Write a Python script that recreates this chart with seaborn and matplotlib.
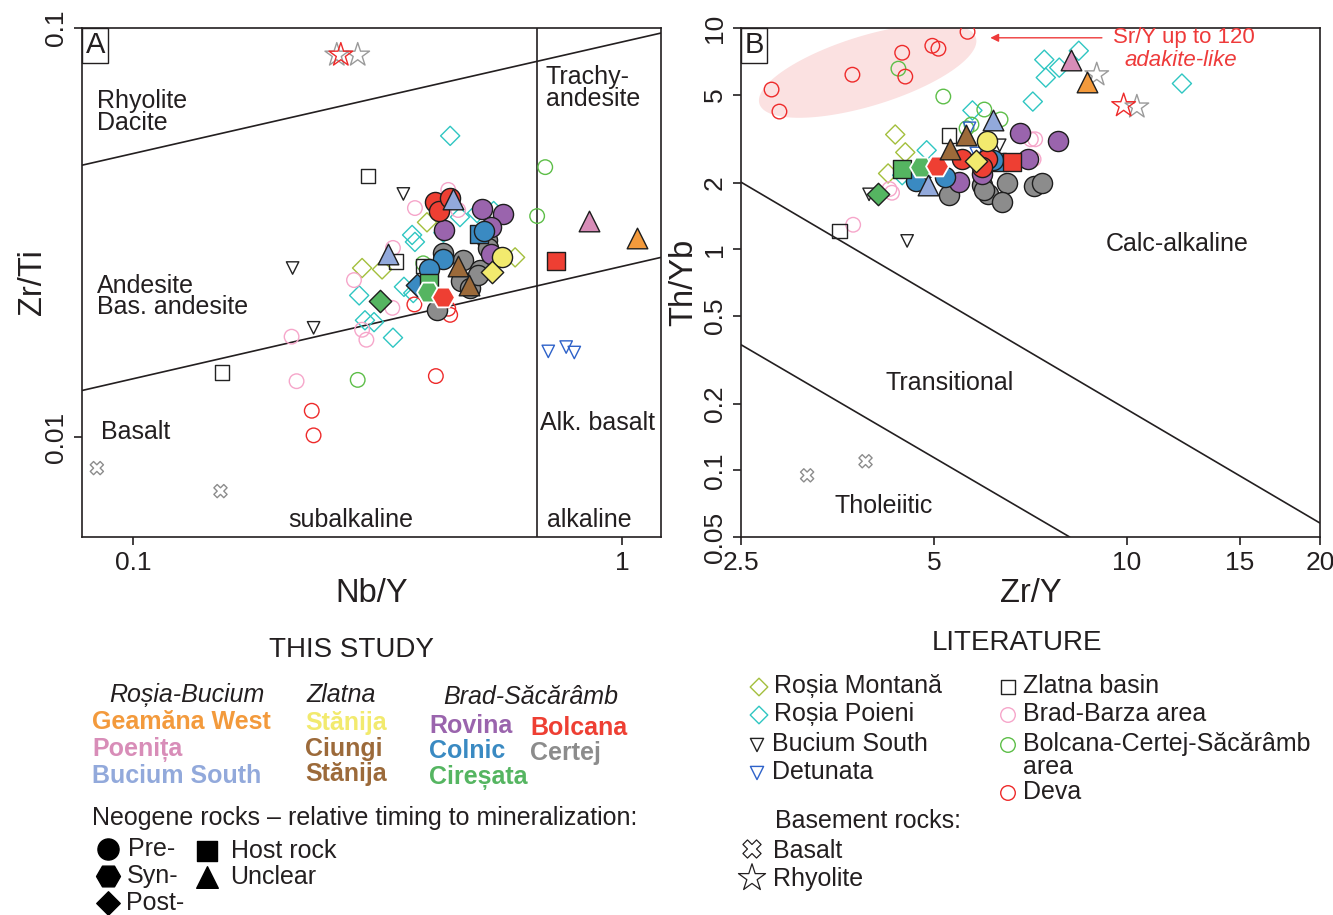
import matplotlib
matplotlib.use("Agg")
import matplotlib.pyplot as plt
import numpy as np
import pandas as pd
import seaborn as sns

# ---------------- THIS STUDY ----------------
# panel A: Nb/Y vs Zr/Ti, panel B: Zr/Y vs Th/Yb; timing = relative to mineralization
geamana_nby = [1.07]
geamana_zrti = [0.0307]
geamana_timing_a = ["unclear"]
geamana_zry = [8.65]
geamana_thyb = [5.72]
geamana_timing_b = ["unclear"]

poenita_nby = [0.856]
poenita_zrti = [0.0337]
poenita_timing_a = ["unclear"]
poenita_zry = [8.17]
poenita_thyb = [7.19]
poenita_timing_b = ["unclear"]

bucium_nby = [0.451, 0.332]
bucium_zrti = [0.0382, 0.0280]
bucium_timing_a = ["unclear", "unclear"]
bucium_zry = [6.17, 4.90]
bucium_thyb = [3.82, 1.95]
bucium_timing_b = ["unclear", "unclear"]

stanija_nby = [0.568, 0.542]
stanija_zrti = [0.0275, 0.0253]
stanija_timing_a = ["pre", "post"]
stanija_zry = [6.04, 5.82]
stanija_thyb = [3.07, 2.50]
stanija_timing_b = ["pre", "post"]

ciungi_nby = [0.462, 0.487]
ciungi_zrti = [0.0262, 0.0235]
ciungi_timing_a = ["unclear", "unclear"]
ciungi_zry = [5.60, 5.30]
ciungi_thyb = [3.27, 2.83]
ciungi_timing_b = ["unclear", "unclear"]

rovina_nby = [0.517, 0.571, 0.433, 0.540, 0.540]
rovina_zrti = [0.0361, 0.0351, 0.0321, 0.0326, 0.0280]
rovina_timing_a = ["pre"] * 5
rovina_zry = [6.82, 7.80, 7.00, 5.46, 5.95]
rovina_thyb = [3.34, 3.10, 2.57, 2.01, 2.18]
rovina_timing_b = ["pre"] * 5

colnic_nby = [0.510, 0.522, 0.431, 0.403, 0.381]
colnic_zrti = [0.0314, 0.0319, 0.0272, 0.0257, 0.0235]
colnic_timing_a = ["host", "pre", "pre", "pre", "post"]
colnic_zry = [6.28, 6.17, 4.69, 5.21, 4.87]
colnic_thyb = [2.47, 2.53, 2.03, 2.13, 2.30]
colnic_timing_b = ["host", "pre", "pre", "pre", "post"]

ciresata_nby = [0.403, 0.401, 0.320]
ciresata_zrti = [0.0238, 0.0226, 0.0215]
ciresata_timing_a = ["host", "syn", "post"]
ciresata_zry = [4.45, 4.78, 4.09]
ciresata_thyb = [2.30, 2.35, 1.77]
ciresata_timing_b = ["host", "syn", "post"]

bolcana_nby = [0.415, 0.422, 0.445, 0.733, 0.431]
bolcana_zrti = [0.0375, 0.0357, 0.0384, 0.0269, 0.0220]
bolcana_timing_a = ["pre", "pre", "pre", "host", "syn"]
bolcana_zry = [5.52, 6.04, 5.95, 6.61, 5.06]
bolcana_thyb = [2.55, 2.55, 2.35, 2.47, 2.39]
bolcana_timing_b = ["pre", "pre", "pre", "host", "syn"]

certej_nby = [0.431, 0.473, 0.530, 0.532, 0.512, 0.469, 0.489, 0.418, 0.507]
certej_zrti = [0.0282, 0.0271, 0.0303, 0.0290, 0.0256, 0.0241, 0.0231, 0.0204, 0.0249]
certej_timing_a = ["pre"] * 9
certej_zry = [5.28, 5.95, 6.08, 6.49, 6.39, 7.17, 7.38, 5.99]
certej_thyb = [1.76, 1.95, 1.77, 1.99, 1.63, 1.93, 1.99, 1.85]
certej_timing_b = ["pre"] * 8

# ---------------- LITERATURE ----------------
rmontana_nby = [0.399, 0.604, 0.294, 0.323]
rmontana_zrti = [0.0335, 0.0275, 0.0259, 0.0257]
rmontana_zry = [4.35, 4.51, 4.24]
rmontana_thyb = [3.30, 2.74, 2.20]

rpoieni_nby = [0.445, 0.466, 0.505, 0.372, 0.377, 0.431, 0.290, 0.298, 0.311, 0.340, 0.358, 0.374, 0.546]
rpoieni_zrti = [0.0545, 0.0345, 0.0353, 0.0312, 0.0300, 0.0316, 0.0222, 0.0193, 0.0191, 0.0175,
                0.0233, 0.0225, 0.0357]
rpoieni_zry = [7.43, 8.41, 7.84, 7.47, 7.13, 12.18, 5.74, 4.87, 4.46]
rpoieni_thyb = [7.19, 7.89, 6.62, 5.97, 4.65, 5.61, 4.24, 2.80, 2.16]

bsouth_nby = [0.357, 0.212, 0.234]
bsouth_zrti = [0.0393, 0.0259, 0.0185]
bsouth_zry = [6.33, 3.96, 4.54, 5.28]
bsouth_thyb = [2.95, 1.77, 1.09, 1.74]

detunata_nby = [0.706, 0.768, 0.798]
detunata_zrti = [0.0162, 0.0166, 0.0161]
detunata_zry = [5.68, 5.82]
detunata_thyb = [3.52, 2.71]

zlatna_nby = [0.302, 0.152, 0.345, 0.393]
zlatna_zrti = [0.0435, 0.0144, 0.0269, 0.0262]
zlatna_zry = [5.28, 3.56]
zlatna_thyb = [3.27, 1.21]

bradbarza_nby = [0.216, 0.211, 0.283, 0.294, 0.300, 0.339, 0.377, 0.441, 0.462, 0.340]
bradbarza_zrti = [0.0137, 0.0176, 0.0242, 0.0183, 0.0173, 0.0207, 0.0363, 0.0402, 0.0359, 0.0290]
bradbarza_zry = [7.08, 7.19, 7.15, 4.26, 4.30, 3.74]
bradbarza_thyb = [3.14, 3.14, 2.55, 1.87, 1.80, 1.29]

bcs_nby = [0.696, 0.670, 0.288, 0.392]
bcs_zrti = [0.0457, 0.0347, 0.0138, 0.0266]
bcs_zry = [4.40, 5.17, 5.99, 6.35, 5.72, 5.62]
bcs_thyb = [6.55, 4.90, 4.28, 3.86, 3.66, 3.52]

deva_nby = [0.232, 0.234, 0.416, 0.376, 0.445, 0.441]
deva_zrti = [0.0116, 0.0101, 0.0141, 0.0211, 0.0199, 0.0206]
deva_zry = [5.64, 4.46, 4.97, 5.08, 3.73, 4.51, 2.79, 2.87]
deva_thyb = [9.61, 7.73, 8.31, 8.06, 6.15, 6.03, 5.27, 4.19]

basalt_nby = [0.0844, 0.151]
basalt_zrti = [0.0084, 0.00738]
basalt_zry = [3.17, 3.91]
basalt_thyb = [0.095, 0.110]

rhyolite_nby = [0.261, 0.288]
rhyolite_zrti = [0.0859, 0.0859]
rhyolite_zry = [8.97, 10.36]
rhyolite_thyb = [6.15, 4.40]
rhyolite_red_nby = [0.266]
rhyolite_red_zrti = [0.0859]
rhyolite_red_zry = [9.88]
rhyolite_red_thyb = [4.46]

# field boundaries
a_upper_nby, a_upper_zrti = [0.0787, 1.20], [0.0462, 0.0972]
a_lower_nby, a_lower_zrti = [0.0787, 1.20], [0.0130, 0.0275]
a_alkaline_nby = 0.67
b_upper_zry, b_upper_thyb = [2.5, 20], [2.01, 0.0578]
b_lower_zry, b_lower_thyb = [2.5, 8.14], [0.37, 0.05]
adakite_center = (3.94, 6.41)
adakite_arrow_zry = (9.23, 6.06)
adakite_arrow_thyb = 9.03

# ---------------- tables ----------------
study = [
    ("Certej", "#8c8c8c", certej_nby, certej_zrti, certej_timing_a, certej_zry, certej_thyb, certej_timing_b),
    ("Rovina", "#9a64ad", rovina_nby, rovina_zrti, rovina_timing_a, rovina_zry, rovina_thyb, rovina_timing_b),
    ("Colnic", "#3a8ac2", colnic_nby, colnic_zrti, colnic_timing_a, colnic_zry, colnic_thyb, colnic_timing_b),
    ("Cireșata", "#55b561", ciresata_nby, ciresata_zrti, ciresata_timing_a, ciresata_zry, ciresata_thyb,
     ciresata_timing_b),
    ("Bolcana", "#ee3f33", bolcana_nby, bolcana_zrti, bolcana_timing_a, bolcana_zry, bolcana_thyb,
     bolcana_timing_b),
    ("Ciungi Stănija", "#9c6a3a", ciungi_nby, ciungi_zrti, ciungi_timing_a, ciungi_zry, ciungi_thyb,
     ciungi_timing_b),
    ("Stănija", "#f2ea6e", stanija_nby, stanija_zrti, stanija_timing_a, stanija_zry, stanija_thyb,
     stanija_timing_b),
    ("Bucium South", "#92a9db", bucium_nby, bucium_zrti, bucium_timing_a, bucium_zry, bucium_thyb,
     bucium_timing_b),
    ("Poenița", "#d88db8", poenita_nby, poenita_zrti, poenita_timing_a, poenita_zry, poenita_thyb,
     poenita_timing_b),
    ("Geamăna West", "#f39a3c", geamana_nby, geamana_zrti, geamana_timing_a, geamana_zry, geamana_thyb,
     geamana_timing_b),
]

rows = []
for name, col, ax_, ay_, at_, bx_, by_, bt_ in study:
    rows += [dict(panel="A", group=name, x=x, y=y, timing=t) for x, y, t in zip(ax_, ay_, at_)]
    rows += [dict(panel="B", group=name, x=x, y=y, timing=t) for x, y, t in zip(bx_, by_, bt_)]
study_df = pd.DataFrame(rows)
study_colors = {s[0]: s[1] for s in study}

literature = [
    ("Roșia Montană", "D", "#a3bf3c", 95, rmontana_nby, rmontana_zrti, rmontana_zry, rmontana_thyb),
    ("Roșia Poieni", "D", "#2fc6c2", 95, rpoieni_nby, rpoieni_zrti, rpoieni_zry, rpoieni_thyb),
    ("Brad-Barza area", "o", "#f6a6ca", 110, bradbarza_nby, bradbarza_zrti, bradbarza_zry, bradbarza_thyb),
    ("Bolcana-Certej-Săcărâmb area", "o", "#5dbe48", 110, bcs_nby, bcs_zrti, bcs_zry, bcs_thyb),
    ("Deva", "o", "#ee2a2a", 110, deva_nby, deva_zrti, deva_zry, deva_thyb),
    ("Bucium South", "v", "#222222", 80, bsouth_nby, bsouth_zrti, bsouth_zry, bsouth_thyb),
    ("Detunata", "v", "#2e62c9", 80, detunata_nby, detunata_zrti, detunata_zry, detunata_thyb),
    ("Zlatna basin", "s", "#222222", 110, zlatna_nby, zlatna_zrti, zlatna_zry, zlatna_thyb),
    ("Basalt", "X", "#8c8c8c", 90, basalt_nby, basalt_zrti, basalt_zry, basalt_thyb),
    ("Rhyolite", "*", "#9a9a9a", 320, rhyolite_nby, rhyolite_zrti, rhyolite_zry, rhyolite_thyb),
    ("Rhyolite (red)", "*", "#ee2a2a", 320, rhyolite_red_nby, rhyolite_red_zrti, rhyolite_red_zry,
     rhyolite_red_thyb),
]
rows = []
for name, m, col, s, ax_, ay_, bx_, by_ in literature:
    rows += [dict(panel="A", group=name, x=x, y=y) for x, y in zip(ax_, ay_)]
    rows += [dict(panel="B", group=name, x=x, y=y) for x, y in zip(bx_, by_)]
lit_df = pd.DataFrame(rows)

timing_marker = {"pre": "o", "syn": "H", "post": "D", "host": "s", "unclear": "^"}
timing_size = {"pre": 210, "syn": 270, "post": 130, "host": 180, "unclear": 220}

# ---------------- figure ----------------
sns.set_style("ticks")
plt.rcParams["font.family"] = ["Liberation Sans", "DejaVu Sans"]
TXT = "#231f20"
RED = "#ee3a3a"
W, H = 1333, 915
fig = plt.figure(figsize=(W / 100, H / 100), dpi=100)
ax_a = fig.add_axes([82 / W, 1 - 537 / H, 579 / W, 509 / H])
ax_b = fig.add_axes([741 / W, 1 - 537 / H, 579 / W, 509 / H])

for ax, panel in ((ax_a, "A"), (ax_b, "B")):
    ax.set_xscale("log")
    ax.set_yscale("log")
    for name, m, col, s, *_ in literature:
        d = lit_df[(lit_df.panel == panel) & (lit_df.group == name)]
        sns.scatterplot(data=d, x="x", y="y", ax=ax, marker=m, s=s, color="none", edgecolor=col,
                        linewidth=1.0, legend=False, zorder=3)
    for name, col, *_ in study:
        d = study_df[(study_df.panel == panel) & (study_df.group == name)]
        for t in ["host", "pre", "unclear", "syn", "post"]:
            dd = d[d.timing == t]
            if dd.empty:
                continue
            sns.scatterplot(data=dd, x="x", y="y", ax=ax, marker=timing_marker[t], s=timing_size[t],
                            color=col, edgecolor="white" if t == "syn" else "#1e1e1e",
                            linewidth=1.3 if t == "syn" else 1.0, legend=False, zorder=4)

# panel A fields
ax_a.plot(a_upper_nby, a_upper_zrti, color=TXT, lw=1.2, zorder=2)
ax_a.plot(a_lower_nby, a_lower_zrti, color=TXT, lw=1.2, zorder=2)
ax_a.axvline(a_alkaline_nby, color=TXT, lw=1.2, zorder=2)
ax_a.set_xlim(0.0787, 1.20)
ax_a.set_ylim(0.0057, 0.1)
ax_a.minorticks_off()
ax_a.set_xticks([0.1, 1], ["0.1", "1"])
ax_a.set_yticks([0.01, 0.1], ["0.01", "0.1"], rotation=90, va="center")

reg = dict(transform=ax_a.transAxes, fontsize=18, color=TXT, linespacing=0.85)
ax_a.text(0.026, 0.835, "Rhyolite\nDacite", ha="left", va="center", **reg)
ax_a.text(0.026, 0.473, "Andesite\nBas. andesite", ha="left", va="center", **reg)
ax_a.text(0.033, 0.206, "Basalt", ha="left", va="center", **reg)
ax_a.text(0.801, 0.882, "Trachy-\nandesite", ha="left", va="center", **reg)
ax_a.text(0.891, 0.224, "Alk. basalt", ha="center", va="center", **reg)
ax_a.text(0.465, 0.033, "subalkaline", ha="center", va="center", **reg)
ax_a.text(0.877, 0.033, "alkaline", ha="center", va="center", **reg)

# panel B fields
ax_b.plot(b_upper_zry, b_upper_thyb, color=TXT, lw=1.2, zorder=2)
ax_b.plot(b_lower_zry, b_lower_thyb, color=TXT, lw=1.2, zorder=2)
t = np.linspace(0, 2 * np.pi, 200)
ang = np.deg2rad(17)
u, v = 113 * np.cos(t), 35 * np.sin(t)
lx = np.log10(adakite_center[0]) + (u * np.cos(ang) - v * np.sin(ang)) / 640
ly = np.log10(adakite_center[1]) + (u * np.sin(ang) + v * np.cos(ang)) / 221
ax_b.fill(10 ** lx, 10 ** ly, color="#fbe1e1", lw=0, zorder=1)
ax_b.annotate("", xy=(adakite_arrow_zry[1], adakite_arrow_thyb),
              xytext=(adakite_arrow_zry[0], adakite_arrow_thyb),
              arrowprops=dict(arrowstyle="-|>", color=RED, lw=1.0, mutation_scale=12), zorder=5)
ax_b.set_xlim(2.5, 20)
ax_b.set_ylim(0.05, 10)
ax_b.minorticks_off()
ax_b.set_xticks([2.5, 5, 10, 15, 20], ["2.5", "5", "10", "15", "20"])
ax_b.set_yticks([0.05, 0.1, 0.2, 0.5, 1, 2, 5, 10],
                ["0.05", "0.1", "0.2", "0.5", "1", "2", "5", "10"], rotation=90, va="center")

reg["transform"] = ax_b.transAxes
ax_b.text(0.754, 0.576, "Calc-alkaline", ha="center", va="center", **reg)
ax_b.text(0.36, 0.303, "Transitional", ha="center", va="center", **reg)
ax_b.text(0.246, 0.061, "Tholeiitic", ha="center", va="center", **reg)
ax_b.text(0.765, 0.982, "Sr/Y up to 120", ha="center", va="center", transform=ax_b.transAxes,
          fontsize=16, color=RED)
ax_b.text(0.76, 0.937, "adakite-like", ha="center", va="center", transform=ax_b.transAxes,
          fontsize=16, color=RED, style="italic")

for ax, letter, xl, yl, lp in ((ax_a, "A", "Nb/Y", "Zr/Ti", -3), (ax_b, "B", "Zr/Y", "Th/Yb", 3)):
    for sp in ax.spines.values():
        sp.set_linewidth(1.2)
        sp.set_color(TXT)
    ax.tick_params(direction="out", length=6, width=1.2, labelsize=19, colors=TXT, pad=4)
    ax.set_xlabel(xl, fontsize=23.5, color=TXT, labelpad=2)
    ax.set_ylabel(yl, fontsize=23.5, color=TXT, labelpad=lp)
    ax.text(0.006, 0.994, letter, transform=ax.transAxes, ha="left", va="top", fontsize=21, color=TXT,
            bbox=dict(boxstyle="square,pad=0.12", fc="white", ec=TXT, lw=1.0), zorder=6)

# ---------------- legends ----------------
lg = fig.add_axes([0, 0, 1, 1])
lg.set_xlim(0, W)
lg.set_ylim(H, 0)
lg.axis("off")


def put(x, y, s, ha="left", **kw):
    kw.setdefault("fontsize", 18)
    kw.setdefault("color", TXT)
    lg.text(x, y, s, ha=ha, va="center", **kw)


put(351, 650, "THIS STUDY", ha="center", fontsize=20)
put(187, 695, "Roșia-Bucium", ha="center", style="italic")
put(341, 695, "Zlatna", ha="center", style="italic")
put(531, 697, "Brad-Săcărâmb", ha="center", style="italic")
bold = dict(fontweight="bold")
put(92, 722, "Geamăna West", color=study_colors["Geamăna West"], **bold)
put(92, 750, "Poenița", color=study_colors["Poenița"], **bold)
put(92, 776, "Bucium South", color=study_colors["Bucium South"], **bold)
put(305, 723, "Stănija", color=study_colors["Stănija"], **bold)
put(305, 749, "Ciungi", color=study_colors["Ciungi Stănija"], **bold)
put(305, 774, "Stănija", color=study_colors["Ciungi Stănija"], **bold)
put(429, 726, "Rovina", color=study_colors["Rovina"], **bold)
put(429, 751, "Colnic", color=study_colors["Colnic"], **bold)
put(429, 777, "Cireșata", color=study_colors["Cireșata"], **bold)
put(530, 728, "Bolcana", color=study_colors["Bolcana"], **bold)
put(530, 753, "Certej", color=study_colors["Certej"], **bold)
put(92, 818, "Neogene rocks – relative timing to mineralization:")

for (mx, my), t_, (tx, label) in [((108, 849), "pre", (128, "Pre-")), ((108, 876), "syn", (127, "Syn-")),
                                  ((108, 903), "post", (126, "Post-")), ((207, 851), "host", (231, "Host rock")),
                                  ((207, 877), "unclear", (230, "Unclear"))]:
    lg.scatter([mx], [my], marker=timing_marker[t_], s=timing_size[t_] * 1.1, color="black")
    put(tx, my, label)

put(1017, 643, "LITERATURE", ha="center", fontsize=20)
lit_leg = [(759, 687, "D", "#a3bf3c", 80, "Roșia Montană"), (759, 715, "D", "#2fc6c2", 80, "Roșia Poieni"),
           (757, 745, "v", "#222222", 90, "Bucium South"), (757, 773, "v", "#2e62c9", 90, "Detunata"),
           (1008, 687, "s", "#222222", 110, "Zlatna basin"), (1008, 715, "o", "#f6a6ca", 110, "Brad-Barza area"),
           (1008, 745, "o", "#5dbe48", 110, "Bolcana-Certej-Săcărâmb"), (1008, 793, "o", "#ee2a2a", 110, "Deva")]
for mx, my, m, col, s, label in lit_leg:
    lg.scatter([mx], [my], marker=m, s=s, color="none", edgecolor=col, linewidth=1.0)
    put(mx + 15, my - 1, label)
put(1023, 767, "area")
put(775, 821, "Basement rocks:")
lg.scatter([752], [849], marker="X", s=170, color="none", edgecolor=TXT, linewidth=0.9)
put(773, 851, "Basalt")
lg.scatter([752], [878], marker="*", s=420, color="none", edgecolor=TXT, linewidth=0.9)
put(773, 879, "Rhyolite")

fig.savefig("out.png", dpi=100)
